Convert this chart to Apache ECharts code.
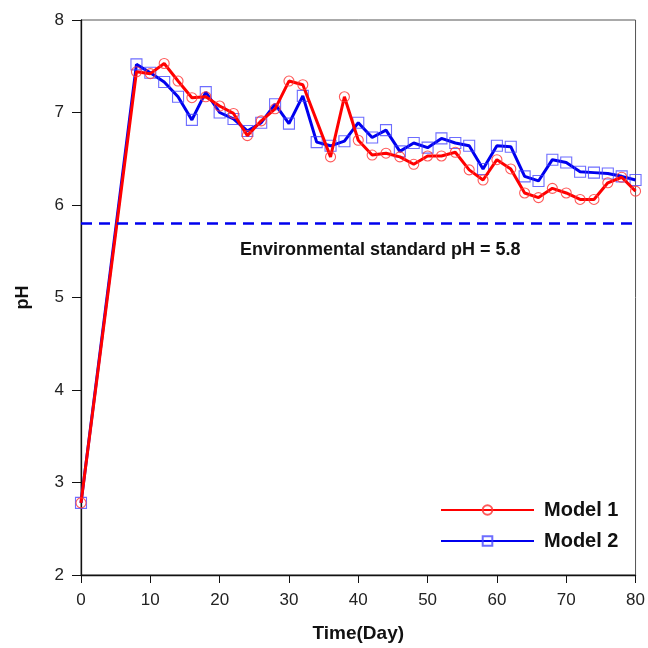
<!DOCTYPE html>
<html>
<head>
<meta charset="utf-8">
<script src="https://cdn.jsdelivr.net/npm/echarts@6/dist/echarts.min.js"></script>
<style>
  html, body { margin: 0; padding: 0; background: #fff; }
  #chart { width: 648px; height: 648px; }
</style>
</head>
<body>
<div id="chart"></div>
<script>
// Sampling days (every 2 days after the initial reading)
const days = [0, 8, 10, 12, 14, 16, 18, 20, 22, 24, 26, 28, 30, 32, 34, 36, 38, 40,
  42, 44, 46, 48, 50, 52, 54, 56, 58, 60, 62, 64, 66, 68, 70, 72, 74, 76, 78, 80];

// Model 1 pH (no reading on day 34)
const model1 = [2.78, 7.44, 7.42, 7.53, 7.34, 7.16, 7.17, 7.07, 6.99, 6.75, 6.91, 7.04, 7.34, 7.30, null, 6.52, 7.17, 6.70,
  6.54, 6.56, 6.52, 6.44, 6.53, 6.53, 6.57, 6.38, 6.27, 6.49, 6.39, 6.13, 6.08, 6.18, 6.13, 6.06, 6.06, 6.24, 6.30, 6.15];

// Model 2 pH
const model2 = [2.78, 7.52, 7.43, 7.33, 7.17, 6.92, 7.22, 7.00, 6.93, 6.80, 6.89, 7.09, 6.88, 7.18, 6.68, 6.64, 6.69, 6.89,
  6.73, 6.81, 6.58, 6.67, 6.62, 6.72, 6.67, 6.64, 6.39, 6.64, 6.63, 6.31, 6.26, 6.49, 6.46, 6.36, 6.35, 6.34, 6.31, 6.27];

const standardPH = 5.8;
const xTicks = { min: 0, max: 80, interval: 10 };
const yTicks = { min: 2, max: 8, interval: 1 };

const pairs = (vals) => days.map((d, i) => [d, vals[i]]).filter(p => p[1] !== null);

const FONT = 'Liberation Sans, Arial, sans-serif';
const chart = echarts.init(document.getElementById('chart'), null, { renderer: 'canvas' });

chart.setOption({
  backgroundColor: '#ffffff',
  animation: false,
  grid: {
    left: 81, right: 10, top: 20, bottom: 70.5,
    show: true, borderColor: '#555', borderWidth: 1, backgroundColor: 'transparent'
  },
  xAxis: {
    type: 'value', min: xTicks.min, max: xTicks.max, interval: xTicks.interval,
    name: 'Time(Day)', nameLocation: 'middle', nameGap: 49,
    nameTextStyle: { fontFamily: FONT, fontWeight: 'bold', fontSize: 19, color: '#111' },
    axisLine: { lineStyle: { color: '#111', width: 1.3 } },
    axisTick: { inside: false, length: 8, lineStyle: { color: '#111', width: 1 } },
    axisLabel: { fontFamily: FONT, fontSize: 17, color: '#222', margin: 17 },
    splitLine: { show: false }
  },
  yAxis: {
    type: 'value', min: yTicks.min, max: yTicks.max, interval: yTicks.interval,
    name: 'pH', nameLocation: 'middle', nameGap: 49, nameRotate: 90,
    nameTextStyle: { fontFamily: FONT, fontWeight: 'bold', fontSize: 18, color: '#111' },
    axisLine: { lineStyle: { color: '#111', width: 1.3 } },
    axisTick: { inside: false, length: 9, lineStyle: { color: '#111', width: 1 } },
    axisLabel: { fontFamily: FONT, fontSize: 17, color: '#222', margin: 17 },
    splitLine: { show: false }
  },
  legend: {
    orient: 'vertical', left: 440, top: 500, padding: 0,
    data: ['Model 1', 'Model 2'],
    itemWidth: 93, itemHeight: 12, itemGap: 11,
    textStyle: { fontFamily: FONT, fontWeight: 'bold', fontSize: 20, color: '#111', lineHeight: 20, padding: [0, 0, 0, 5] }
  },
  series: [
    {
      name: 'Model 2', type: 'line', data: pairs(model2),
      symbol: 'rect', symbolSize: 11, z: 2,
      lineStyle: { color: '#0000ee', width: 3 },
      itemStyle: { color: 'rgba(255,255,255,0)', borderColor: 'rgba(60,60,255,0.75)', borderWidth: 1.1 },
      markLine: {
        silent: true, symbol: 'none',
        lineStyle: { color: '#0000ee', type: [11, 7], width: 2.5 },
        label: {
          show: true, position: 'insideMiddleBottom', distance: 18, padding: [0, 0, 0, 44],
          formatter: 'Environmental standard pH = ' + standardPH,
          fontFamily: FONT, fontWeight: 'bold', fontSize: 18, color: '#111'
        },
        data: [{ yAxis: standardPH }]
      }
    },
    {
      name: 'Model 1', type: 'line', data: pairs(model1),
      symbol: 'circle', symbolSize: 10, z: 3,
      lineStyle: { color: '#ff0000', width: 3 },
      itemStyle: { color: 'rgba(255,255,255,0)', borderColor: 'rgba(255,60,60,0.85)', borderWidth: 1.1 }
    }
  ]
});
</script>
</body>
</html>
